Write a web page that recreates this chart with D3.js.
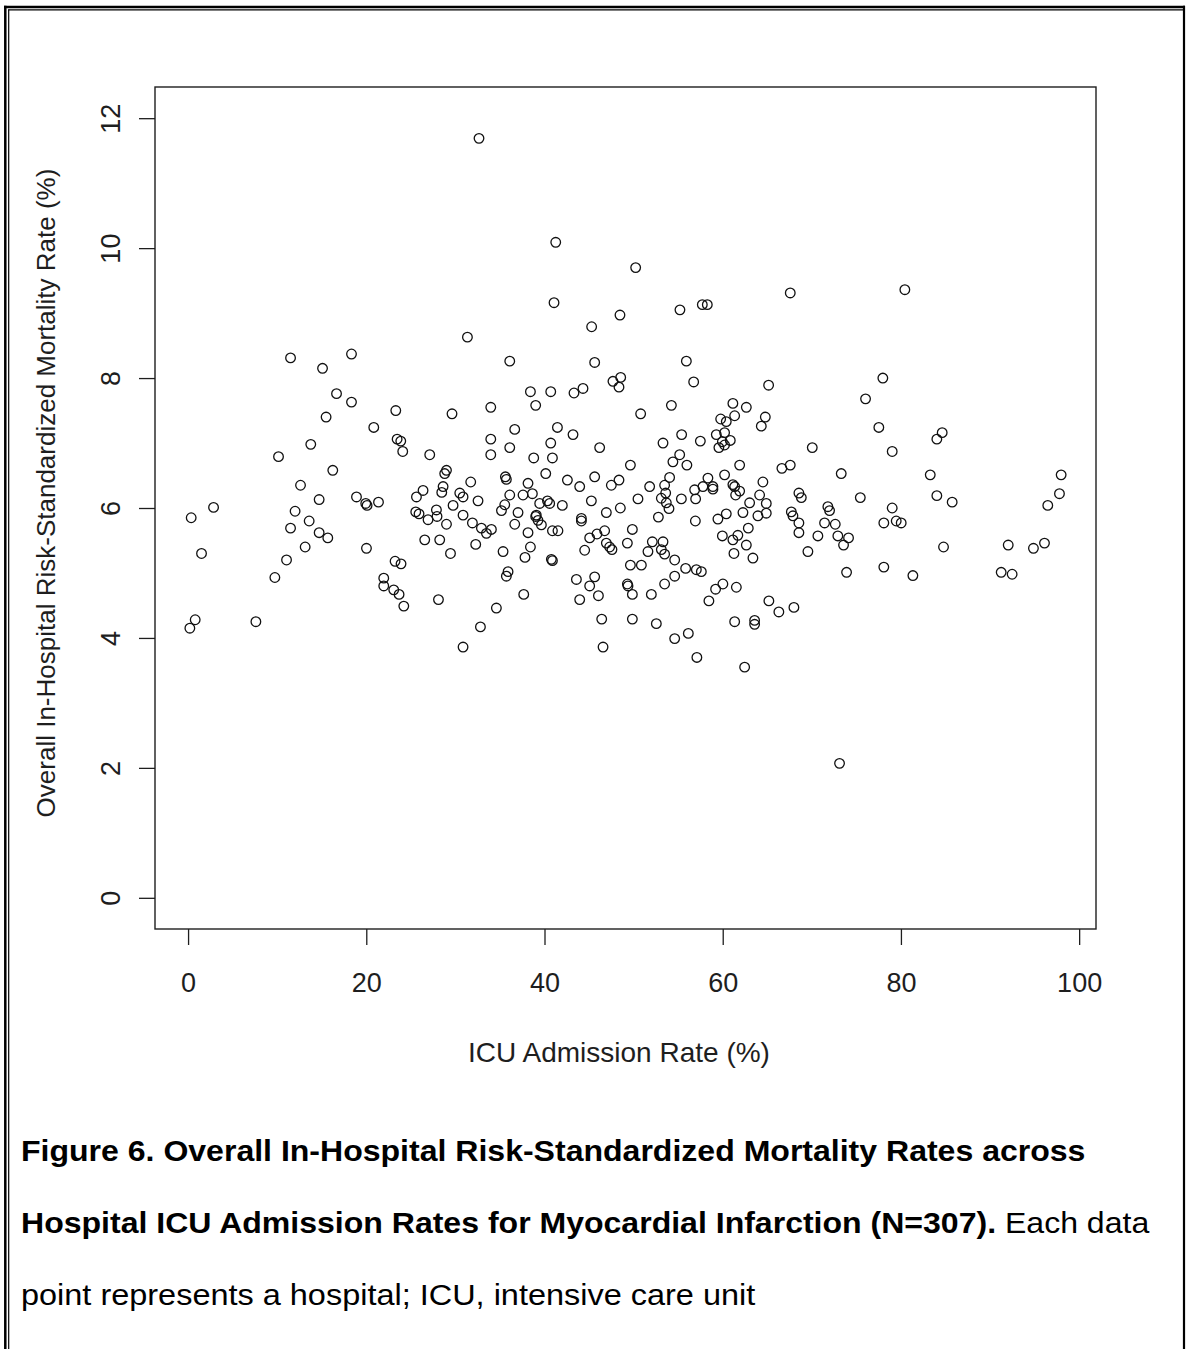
<!DOCTYPE html>
<html>
<head>
<meta charset="utf-8">
<script src="https://cdnjs.cloudflare.com/ajax/libs/d3/7.8.5/d3.min.js"></script>
<style>
body { margin: 0; background: #fff; }
text { font-family: "Liberation Sans", Arial, sans-serif; }
</style>
</head>
<body>
<div id="content"></div>
<script>
// ICU admission rate (%) per hospital
var icuRate = [
  32.65, 41.26, 50.23, 41.07, 67.58, 80.44, 55.20, 57.71, 58.27, 48.47, 45.29, 73.11,
  11.50, 15.09, 18.34, 16.66, 18.34, 15.49, 23.31, 29.62, 20.84, 13.77,
  10.15, 23.46, 23.87, 24.09, 27.12, 16.24, 31.35, 29.00, 28.80,
  12.62, 14.71, 18.90, 19.94, 20.09, 21.37, 25.63, 26.37, 28.62, 28.47,
  0.35, 2.86, 1.51, 12.01, 11.50, 13.59, 14.71, 15.68, 13.14, 11.05,
  9.74, 20.02, 23.23, 23.90, 21.96, 21.96, 23.08, 23.68, 24.21, 28.10,
  0.80, 0.20, 7.61, 25.55, 25.92, 26.93, 27.87, 27.94, 29.00, 29.74,
  30.49, 30.86, 26.56, 28.24, 29.45,
  36.10, 45.63, 55.92, 56.74, 47.68, 48.55, 48.36, 65.15, 38.42, 40.70,
  43.31, 44.32, 39.01, 33.97, 50.79, 54.24, 61.14, 62.65, 61.34, 59.77,
  60.40, 64.78, 64.33, 36.66, 41.45, 43.20, 33.97, 36.10, 40.70, 33.97,
  38.79, 40.89, 46.19, 53.30, 55.39, 57.49, 59.28, 60.21, 59.96, 60.85,
  59.57, 60.21, 55.17, 54.41, 55.98, 61.90, 49.64, 40.14, 35.61, 35.72,
  31.72, 32.54, 38.15, 42.57, 43.95, 45.63, 47.50, 48.36, 51.80, 54.04,
  53.48, 53.60, 56.85, 57.78, 58.34, 58.90, 58.90, 60.21, 61.14, 61.34,
  61.90, 61.45, 64.51, 64.14, 63.02, 64.89, 55.36, 56.96, 53.11, 53.67,
  53.97, 50.49, 45.26, 48.51, 42.00, 39.46, 40.33, 40.58, 38.64, 37.59,
  36.10, 35.54, 35.17,
  30.86, 31.91, 32.92, 33.48, 34.04, 32.28, 37.03, 36.66, 39.01, 39.27,
  39.08, 39.65, 38.15, 38.42, 37.81, 35.35, 40.89, 41.51, 40.77, 40.89,
  35.91, 35.72, 37.67, 34.60, 32.81, 30.86, 44.14, 44.14, 46.94, 46.75,
  45.07, 45.89, 44.51, 46.94, 47.31, 47.57, 49.86, 49.30, 49.64, 50.87,
  43.58, 45.63, 45.07, 43.95, 46.05, 49.30, 49.37, 49.86, 51.99, 46.42,
  49.86, 46.57, 52.55, 54.61, 56.14, 57.10, 62.46, 52.78, 56.93, 52.10,
  53.30, 51.61, 53.11, 53.48, 54.61, 54.61, 53.48, 55.84, 57.04, 57.60,
  58.45, 59.20, 60.02, 61.53, 61.34, 63.58, 63.58, 65.18, 61.26, 63.39,
  62.65, 59.96, 61.14, 61.70, 62.87, 59.46, 60.40, 62.27, 63.95, 64.89,
  77.97, 76.03, 77.52, 79.02, 84.63, 84.03, 70.05, 66.64, 67.58, 73.30,
  83.29, 97.98, 97.79, 96.48, 84.03, 85.75, 75.44, 68.55, 68.82, 71.80,
  71.99, 79.02,
  67.70, 67.88, 68.55, 68.55, 69.56, 70.68, 71.43, 72.63, 72.92, 74.12,
  73.56, 73.90, 78.08, 79.47, 80.03, 78.08, 81.34, 84.78, 92.04, 91.25,
  92.48, 94.87, 96.11, 66.30, 67.99
];

// risk-standardized mortality rate (%), same order as icuRate
var mortalityRate = [
  11.69, 10.09, 9.70, 9.16, 9.31, 9.36, 9.05, 9.13, 9.13, 8.97, 8.79, 2.07,
  8.31, 8.15, 8.37, 7.76, 7.63, 7.40, 7.50, 7.45, 7.24, 6.98,
  6.79, 7.06, 7.03, 6.87, 6.82, 6.58, 8.63, 6.58, 6.53,
  6.35, 6.13, 6.17, 6.07, 6.04, 6.09, 6.17, 6.27, 6.33, 6.24,
  5.85, 6.01, 5.30, 5.95, 5.69, 5.80, 5.62, 5.54, 5.40, 5.20,
  4.93, 5.38, 5.18, 5.14, 4.92, 4.80, 4.74, 4.67, 4.49, 4.59,
  4.28, 4.15, 4.25, 5.94, 5.91, 5.82, 5.97, 5.87, 5.75, 6.04,
  6.23, 6.17, 5.51, 5.51, 5.30,
  8.26, 8.24, 8.26, 7.94, 7.95, 8.01, 7.86, 7.89, 7.79, 7.79,
  7.77, 7.84, 7.58, 7.55, 7.45, 7.58, 7.61, 7.55, 7.42, 7.37,
  7.33, 7.40, 7.26, 7.21, 7.24, 7.13, 7.06, 6.93, 7.00, 6.82,
  6.77, 6.77, 6.93, 7.00, 7.13, 7.03, 7.13, 7.16, 7.02, 7.04,
  6.93, 6.97, 6.82, 6.71, 6.66, 6.66, 6.66, 6.53, 6.48, 6.44,
  6.40, 6.11, 6.38, 6.43, 6.33, 6.48, 6.35, 6.43, 6.33, 6.47,
  6.35, 6.23, 6.28, 6.33, 6.46, 6.33, 6.29, 6.51, 6.36, 6.33,
  6.26, 6.20, 6.40, 6.20, 6.08, 6.07, 6.14, 6.14, 6.15, 6.08,
  5.99, 6.14, 6.11, 6.00, 6.04, 6.07, 6.11, 6.07, 6.22, 6.20,
  6.20, 6.05, 5.96,
  5.89, 5.77, 5.69, 5.61, 5.67, 5.44, 5.93, 5.75, 5.87, 5.81,
  5.89, 5.74, 5.62, 5.40, 5.24, 5.33, 5.65, 5.65, 5.21, 5.19,
  5.02, 4.95, 4.67, 4.46, 4.17, 3.86, 5.84, 5.80, 5.93, 5.65,
  5.54, 5.60, 5.35, 5.46, 5.40, 5.36, 5.67, 5.46, 5.12, 5.12,
  4.90, 4.94, 4.80, 4.59, 4.65, 4.83, 4.80, 4.67, 4.67, 4.29,
  4.29, 3.86, 4.22, 3.99, 4.07, 3.70, 3.55, 5.86, 5.80, 5.48,
  5.48, 5.33, 5.36, 5.29, 5.20, 4.95, 4.83, 5.07, 5.05, 5.02,
  4.57, 4.75, 4.83, 4.78, 4.25, 4.27, 4.21, 4.57, 5.30, 5.23,
  5.43, 5.57, 5.51, 5.58, 5.69, 5.83, 5.91, 5.93, 5.88, 5.92,
  8.00, 7.68, 7.24, 6.87, 7.16, 7.06, 6.93, 6.61, 6.66, 6.53,
  6.51, 6.51, 6.22, 6.04, 6.19, 6.09, 6.16, 6.23, 6.16, 6.02,
  5.96, 6.00,
  5.94, 5.88, 5.77, 5.62, 5.33, 5.57, 5.77, 5.75, 5.57, 5.54,
  5.43, 5.01, 5.77, 5.80, 5.77, 5.09, 4.96, 5.40, 5.43, 5.01,
  4.98, 5.38, 5.46, 4.40, 4.47
];

var xTicks = [0, 20, 40, 60, 80, 100];
var yTicks = [0, 2, 4, 6, 8, 10, 12];
var yLimits = [0, 12];

var xTitle = "ICU Admission Rate (%)";
var yTitle = "Overall In-Hospital Risk-Standardized Mortality Rate (%)";
var captionBold1 = "Figure 6. Overall In-Hospital Risk-Standardized Mortality Rates across";
var captionBold2 = "Hospital ICU Admission Rates for Myocardial Infarction (N=307).";
var captionText2 = " Each data";
var captionText3 = "point represents a hospital; ICU, intensive care unit";

var W = 1187, H = 1349;
var box = {left: 155, right: 1096, top: 87, bottom: 929};
var ink = "#1e1e1e";

var svg = d3.select("#content").append("svg")
    .attr("width", W)
    .attr("height", H);

svg.append("rect").attr("width", W).attr("height", H).attr("fill", "#fff");

// рамка вокруг (двойная слева и сверху)
svg.append("line").attr("x1", 5.3).attr("x2", 5.3).attr("y1", 5.8).attr("y2", H)
    .attr("stroke", "#000").attr("stroke-width", 2.5);
svg.append("line").attr("x1", 4).attr("x2", 1185).attr("y1", 7).attr("y2", 7)
    .attr("stroke", "#000").attr("stroke-width", 2.5);
svg.append("line").attr("x1", 8.7).attr("x2", 8.7).attr("y1", 9.5).attr("y2", H)
    .attr("stroke", "#000").attr("stroke-width", 1.2);
svg.append("line").attr("x1", 8.2).attr("x2", 1183).attr("y1", 9.9).attr("y2", 9.9)
    .attr("stroke", "#000").attr("stroke-width", 1.2);
svg.append("line").attr("x1", 1184).attr("x2", 1184).attr("y1", 5.8).attr("y2", H)
    .attr("stroke", "#000").attr("stroke-width", 2.2);

// R-style limits: data range + 4%
var ext = d3.extent(icuRate);
var xpad = (ext[1] - ext[0]) * 0.04;
var ypad = (yLimits[1] - yLimits[0]) * 0.04;

var xScale = d3.scaleLinear()
    .domain([ext[0] - xpad, ext[1] + xpad])
    .range([box.left, box.right]);

var yScale = d3.scaleLinear()
    .domain([yLimits[0] - ypad, yLimits[1] + ypad])
    .range([box.bottom, box.top]);

// x axis
var gx = svg.append("g")
    .attr("transform", "translate(0," + box.bottom + ")")
    .call(d3.axisBottom(xScale).tickValues(xTicks).tickSize(16).tickPadding(28).tickFormat(d3.format("d")));
gx.select(".domain").remove();
gx.selectAll("line").attr("stroke", ink).attr("stroke-width", 1.3);
gx.selectAll("text").attr("font-size", 27).attr("fill", ink)
    .attr("font-family", "Liberation Sans, Arial, sans-serif");

// y axis (labels parallel to axis)
var gy = svg.append("g")
    .attr("transform", "translate(" + box.left + ",0)")
    .call(d3.axisLeft(yScale).tickValues(yTicks).tickSize(16).tickFormat(d3.format("d")));
gy.select(".domain").remove();
gy.selectAll("line").attr("stroke", ink).attr("stroke-width", 1.3);
gy.selectAll("text")
    .attr("x", null).attr("dy", null)
    .attr("text-anchor", "middle")
    .attr("transform", "translate(-35,0) rotate(-90)")
    .attr("font-size", 27).attr("fill", ink)
    .attr("font-family", "Liberation Sans, Arial, sans-serif");

// plot box
svg.append("rect")
    .attr("x", box.left).attr("y", box.top)
    .attr("width", box.right - box.left).attr("height", box.bottom - box.top)
    .attr("fill", "none").attr("stroke", ink).attr("stroke-width", 1.4);

// points
svg.append("g").selectAll("circle")
    .data(icuRate)
    .enter().append("circle")
    .attr("cx", function(d) { return xScale(d); })
    .attr("cy", function(d, i) { return yScale(mortalityRate[i]); })
    .attr("r", 4.8)
    .attr("fill", "none")
    .attr("stroke", "#111")
    .attr("stroke-width", 1.3);

// axis titles
svg.append("text")
    .attr("x", 619).attr("y", 1062)
    .attr("text-anchor", "middle").attr("font-size", 28).attr("fill", ink)
    .text(xTitle);

svg.append("text")
    .attr("transform", "translate(55,493) rotate(-90)")
    .attr("text-anchor", "middle").attr("font-size", 26).attr("fill", ink)
    .text(yTitle);

// caption (Word text looks a bit wider than Liberation, so stretch it)
svg.append("text")
    .attr("transform", "translate(21,1161) scale(1.105,1)")
    .attr("font-size", 29).attr("font-weight", "bold").attr("fill", "#000")
    .text(captionBold1);

var c2 = svg.append("text")
    .attr("transform", "translate(21,1233) scale(1.105,1)")
    .attr("font-size", 29).attr("fill", "#000");
c2.append("tspan").attr("font-weight", "bold").text(captionBold2);
c2.append("tspan").text(captionText2);

svg.append("text")
    .attr("transform", "translate(21,1305) scale(1.12,1)")
    .attr("font-size", 29).attr("fill", "#000")
    .text(captionText3);
</script>
</body>
</html>
